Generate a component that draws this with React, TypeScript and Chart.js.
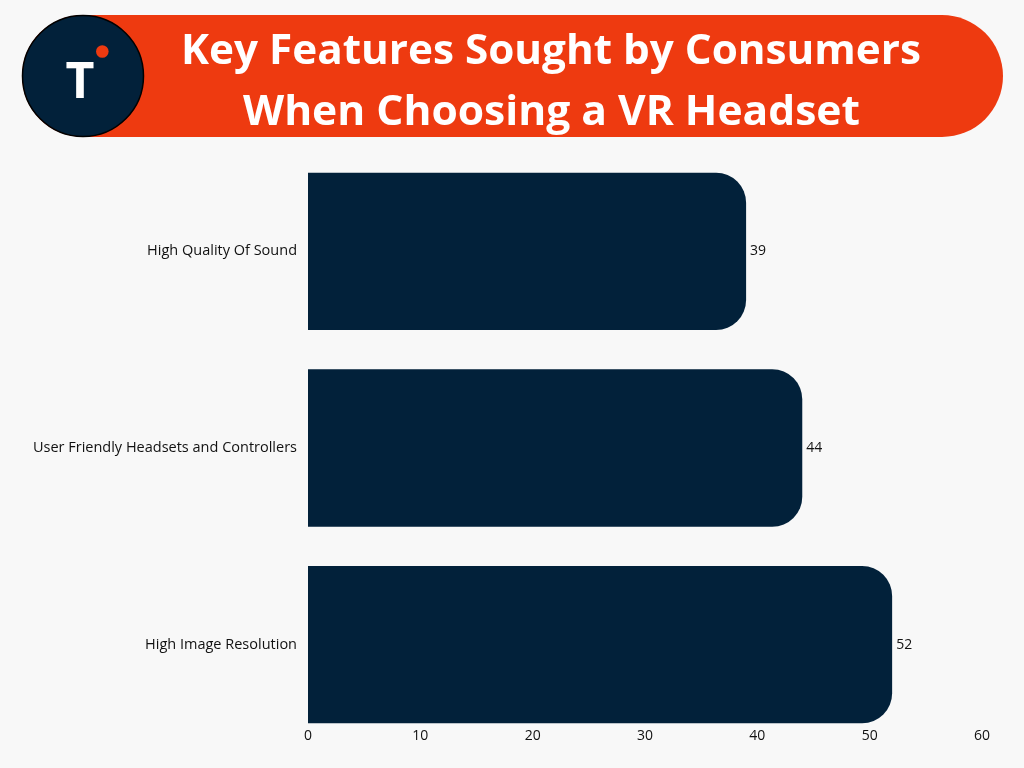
import React, { useEffect, useRef } from "react";
import { Chart, registerables } from "chart.js";

Chart.register(...registerables);

const categories = [
  "High Quality Of Sound",
  "User Friendly Headsets and Controllers",
  "High Image Resolution",
];
const values = [39, 44, 52];
const xTicks = [0, 10, 20, 30, 40, 50, 60];
const titleLines = ["Key Features Sought by Consumers", "When Choosing a VR Headset"];

const BG = "#f8f8f8";
const NAVY = "#02213a";
const RED = "#ee3a10";

const valueLabels = {
  id: "valueLabels",
  afterDatasetsDraw(chart: any) {
    const ctx = chart.ctx;
    const meta = chart.getDatasetMeta(0);
    ctx.save();
    ctx.font = "14px 'Open Sans'";
    ctx.fillStyle = "#111111";
    ctx.textAlign = "left";
    ctx.textBaseline = "middle";
    meta.data.forEach((bar: any, i: number) => {
      const v = chart.data.datasets[0].data[i];
      ctx.fillText(String(v), bar.x + 4, bar.y);
    });
    ctx.restore();
  },
};

export default function App() {
  const ref = useRef<HTMLCanvasElement | null>(null);

  useEffect(() => {
    if (!ref.current) return;
    const chart = new Chart(ref.current, {
      type: "bar",
      data: {
        labels: categories,
        datasets: [
          {
            data: values,
            backgroundColor: NAVY,
            borderRadius: 30,
            borderSkipped: "start",
            barPercentage: 0.8,
            categoryPercentage: 1.0,
          },
        ],
      },
      options: {
        indexAxis: "y",
        animation: false,
        responsive: false,
        maintainAspectRatio: false,
        layout: { padding: { top: 153, right: 42, bottom: 25, left: 0 } },
        plugins: { legend: { display: false }, tooltip: { enabled: false } },
        scales: {
          x: {
            min: xTicks[0],
            max: xTicks[xTicks.length - 1],
            afterBuildTicks: (scale: any) => {
              scale.ticks = xTicks.map((v) => ({ value: v }));
            },
            grid: { display: false, drawTicks: false },
            border: { display: false },
            ticks: {
              padding: -15,
              color: "#111111",
              font: { family: "'Open Sans'", size: 14 },
            },
          },
          y: {
            afterFit: (scale: any) => {
              scale.width = 308;
            },
            grid: { display: false, drawTicks: false },
            border: { display: false },
            ticks: {
              padding: 11,
              color: "#111111",
              font: { family: "'Open Sans'", size: 14.5 },
            },
          },
        },
      },
      plugins: [valueLabels],
    });
    return () => chart.destroy();
  }, []);

  return (
    <div
      style={{
        position: "absolute",
        left: 0,
        top: 0,
        width: 1024,
        height: 768,
        background: BG,
        overflow: "hidden",
      }}
    >
      <canvas
        ref={ref}
        width={1024}
        height={768}
        style={{ position: "absolute", left: 0, top: 0, width: 1024, height: 768 }}
      />
      <svg
        width={1024}
        height={150}
        style={{ position: "absolute", left: 0, top: 0 }}
      >
        <rect x={22} y={15} width={981} height={122} rx={61} ry={61} fill={RED} />
        <circle cx={83} cy={76} r={60.5} fill={NAVY} stroke="#000" strokeWidth={1.5} />
        <text
          x={80}
          y={97.5}
          textAnchor="middle"
          fill="#fff"
          fontFamily="'Open Sans'"
          fontWeight={700}
          fontSize={50}
        >
          T
        </text>
        <circle cx={102.3} cy={51.5} r={6.3} fill={RED} />
        <text
          x={181}
          y={63.5}
          fill="#fff"
          fontFamily="'Open Sans'"
          fontWeight={700}
          fontSize={42}
          textLength={740}
          lengthAdjust="spacingAndGlyphs"
        >
          {titleLines[0]}
        </text>
        <text
          x={243}
          y={125}
          fill="#fff"
          fontFamily="'Open Sans'"
          fontWeight={700}
          fontSize={42}
          textLength={617}
          lengthAdjust="spacingAndGlyphs"
        >
          {titleLines[1]}
        </text>
      </svg>
    </div>
  );
}
